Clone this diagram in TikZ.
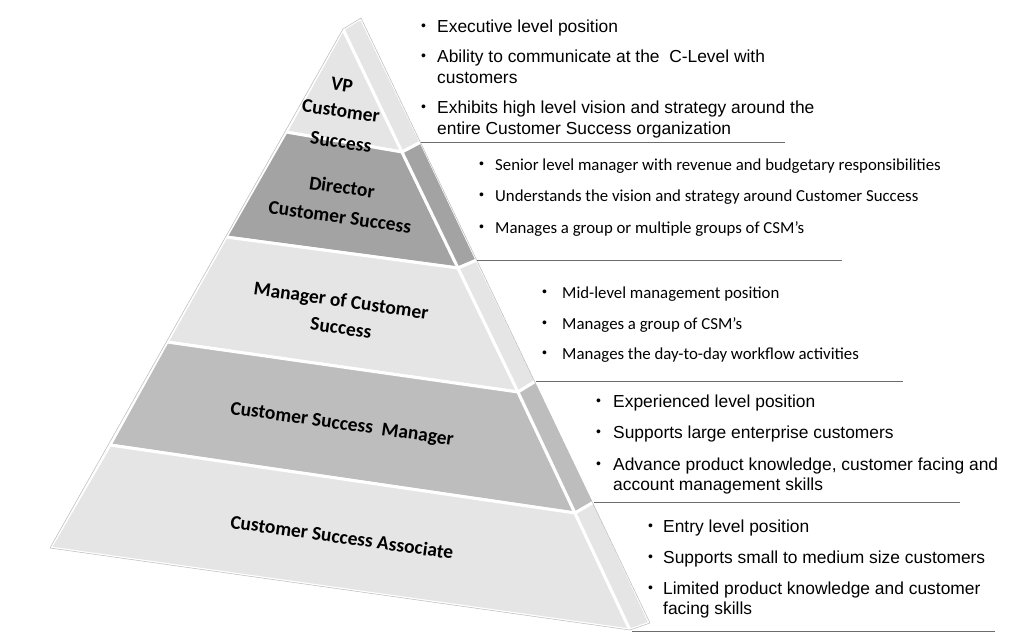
\documentclass[tikz,border=0pt]{standalone}
\usepackage{fontspec}
\setmainfont{Liberation Sans}
\newfontfamily\calibri{Carlito}
\definecolor{bandlight}{HTML}{E5E5E5}
\definecolor{banddark}{HTML}{A3A3A3}
\definecolor{bandmid}{HTML}{BDBDBD}
\tikzset{
  band/.style={draw=white, line width=3pt, line join=round},
  rim/.style={draw=gray!55, line width=0.5pt, line join=round},
  lvl/.style={font=\calibri\bfseries\fontsize{19.5}{22}\selectfont, rotate=-8, inner sep=0pt},
  item/.style={anchor=base west, inner sep=0pt},
  dot/.style={anchor=base west, inner sep=0pt, font=\fontsize{14}{14}\selectfont, yshift=1.2pt},
  rule/.style={draw=gray!85!black, line width=0.8pt},
}
\begin{document}
\begin{tikzpicture}[x=1pt,y=-1pt]
        \useasboundingbox (0,0) rectangle (1030,640);

        % corners of the pyramid
        \coordinate (A)  at (343,29);
        \coordinate (L1) at (286,132);
        \coordinate (L2) at (226,237);
        \coordinate (L3) at (167,342);
        \coordinate (L4) at (110,445);
        \coordinate (L5) at (50,548);
        \coordinate (R1) at (402,152);
        \coordinate (R2) at (458,268);
        \coordinate (R3) at (518,392);
        \coordinate (R4) at (575,513);
        \coordinate (R5) at (630,630);
        \coordinate (S0) at (361,18);
        \coordinate (S1) at (421,142);
        \coordinate (S2) at (477,260);
        \coordinate (S3) at (536,381);
        \coordinate (S4) at (594,502);
        \coordinate (S5) at (650,623);

        % front face
        \path[band, fill=bandlight] (A) -- (R1) -- (L1) -- cycle;
        \path[band, fill=banddark]  (L1) -- (R1) -- (R2) -- (L2) -- cycle;
        \path[band, fill=bandlight] (L2) -- (R2) -- (R3) -- (L3) -- cycle;
        \path[band, fill=bandmid]   (L3) -- (R3) -- (R4) -- (L4) -- cycle;
        \path[band, fill=bandlight] (L4) -- (R4) -- (R5) -- (L5) -- cycle;

        % side face
        \path[band, fill=bandlight] (A) -- (S0) -- (S1) -- (R1) -- cycle;
        \path[band, fill=banddark]  (R1) -- (S1) -- (S2) -- (R2) -- cycle;
        \path[band, fill=bandlight] (R2) -- (S2) -- (S3) -- (R3) -- cycle;
        \path[band, fill=bandmid]   (R3) -- (S3) -- (S4) -- (R4) -- cycle;
        \path[band, fill=bandlight] (R4) -- (S4) -- (S5) -- (R5) -- cycle;

        \path[rim] (A) -- (L5) -- (R5) -- (S5) -- (S0) -- cycle;

        % level names
        \node[lvl] (vp1)  at (342,85)  {VP};
        \node[lvl] (vp2)  at (341,111) {Customer};
        \node[lvl] (vp3)  at (341,142) {Success};
        \node[lvl] (dir1) at (342,187) {Director};
        \node[lvl] (dir2) at (340,217) {Customer Success};
        \node[lvl] (mgr1) at (341,302) {Manager of Customer};
        \node[lvl] (mgr2) at (341,328) {Success};
        \node[lvl] (csm)  at (342,425) {Customer Success\ \ Manager};
        \node[lvl] (csa)  at (342,537) {Customer Success Associate};

        % duties of each level
        \begin{scope}[every node/.style={item}, font=\fontsize{17.4}{20}\selectfont]
          \node[dot] (vpb1) at (421,32)  {•};
          \node (vpt1) at (437,32)  {Executive level position};
          \node[dot] (vpb2) at (421,62)  {•};
          \node (vpt2) at (437,62)  {Ability to communicate at the\ \ C-Level with};
          \node (vpt3) at (437,83)  {customers};
          \node[dot] (vpb3) at (421,113) {•};
          \node (vpt4) at (437,113) {Exhibits high level vision and strategy around the};
          \node (vpt5) at (437,134) {entire Customer Success organization};
        \end{scope}
        \coordinate (E1) at (785,142);
        \draw[rule] (S1) -- (E1);

        \begin{scope}[every node/.style={item}, font=\calibri\fontsize{16.8}{20}\selectfont]
          \node[dot] (dirb1) at (479,170) {•};
          \node (dirt1) at (495,170) {Senior level manager with revenue and budgetary responsibilities};
          \node[dot] (dirb2) at (479,201) {•};
          \node (dirt2) at (495,201) {Understands the vision and strategy around Customer Success};
          \node[dot] (dirb3) at (479,233) {•};
          \node (dirt3) at (495,233) {Manages a group or multiple groups of CSM’s};
        \end{scope}
        \coordinate (E2) at (842,260);
        \draw[rule] (S2) -- (E2);

        \begin{scope}[every node/.style={item}, font=\calibri\fontsize{16.8}{20}\selectfont]
          \node[dot] (mgrb1) at (542,298) {•};
          \node (mgrt1) at (562,298) {Mid-level management position};
          \node[dot] (mgrb2) at (542,329) {•};
          \node (mgrt2) at (562,329) {Manages a group of CSM’s};
          \node[dot] (mgrb3) at (542,359) {•};
          \node (mgrt3) at (562,359) {Manages the day-to-day workflow activities};
        \end{scope}
        \coordinate (E3) at (903,381);
        \draw[rule] (S3) -- (E3);

        \begin{scope}[every node/.style={item}, font=\fontsize{17.4}{20}\selectfont]
          \node[dot] (csmb1) at (596,407) {•};
          \node (csmt1) at (613,407) {Experienced level position};
          \node[dot] (csmb2) at (596,438) {•};
          \node (csmt2) at (613,438) {Supports large enterprise customers};
          \node[dot] (csmb3) at (596,470) {•};
          \node (csmt3) at (613,470) {Advance product knowledge, customer facing and};
          \node (csmt4) at (613,490) {account management skills};
        \end{scope}
        \coordinate (E4) at (960,502);
        \draw[rule] (S4) -- (E4);

        \begin{scope}[every node/.style={item}, font=\fontsize{17.4}{20}\selectfont]
          \node[dot] (csab1) at (648,532) {•};
          \node (csat1) at (663,532) {Entry level position};
          \node[dot] (csab2) at (648,563) {•};
          \node (csat2) at (663,563) {Supports small to medium size customers};
          \node[dot] (csab3) at (648,594) {•};
          \node (csat3) at (663,594) {Limited product knowledge and customer};
          \node (csat4) at (663,614) {facing skills};
        \end{scope}
        \coordinate (E5) at (995,631);
        \draw[rule] (R5) ++(2,1) coordinate (F5) (F5) -- (E5);

      \end{tikzpicture}
\end{document}
